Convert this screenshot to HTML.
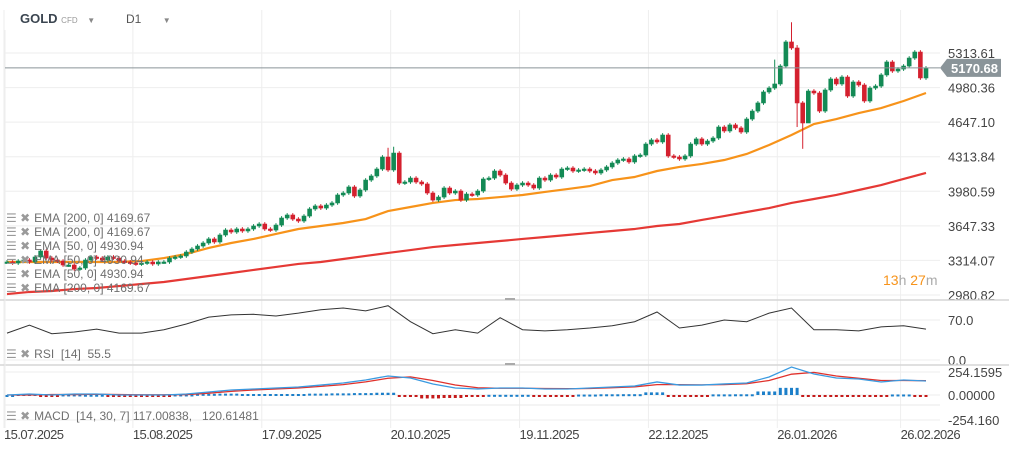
<!DOCTYPE html>
<html><head><meta charset="utf-8"><style>
html,body{margin:0;padding:0;background:#fff;}
#wrap{position:relative;width:1009px;height:449px;overflow:hidden;font-family:"Liberation Sans",sans-serif;}
svg{position:absolute;left:0;top:0;}
.leg{position:absolute;left:6px;font-size:12px;color:#6f6f6f;white-space:nowrap;}
.leg b{font-weight:normal;color:#9a9a9a;margin-right:4px;font-size:12px;}
</style></head><body>
<div id="wrap">
<svg id="chart" width="1009" height="449"></svg>
<div class="leg" style="top:211px"><b>☰ ✖</b>EMA&nbsp;[200,&nbsp;0]&nbsp;4169.67</div>
<div class="leg" style="top:225px"><b>☰ ✖</b>EMA&nbsp;[200,&nbsp;0]&nbsp;4169.67</div>
<div class="leg" style="top:239px"><b>☰ ✖</b>EMA&nbsp;[50,&nbsp;0]&nbsp;4930.94</div>
<div class="leg" style="top:253px"><b>☰ ✖</b>EMA&nbsp;[50,&nbsp;0]&nbsp;4930.94</div>
<div class="leg" style="top:267px"><b>☰ ✖</b>EMA&nbsp;[50,&nbsp;0]&nbsp;4930.94</div>
<div class="leg" style="top:281px"><b>☰ ✖</b>EMA&nbsp;[200,&nbsp;0]&nbsp;4169.67</div>
<div class="leg" style="top:347px"><b>☰ ✖</b>RSI&nbsp;&nbsp;[14]&nbsp;&nbsp;55.5</div>
<div class="leg" style="top:409px"><b>☰ ✖</b>MACD&nbsp;&nbsp;[14,&nbsp;30,&nbsp;7]&nbsp;117.00838,&nbsp;&nbsp;&nbsp;120.61481</div>
<div style="position:absolute;left:20px;top:11px;font-size:13px;font-weight:bold;color:#3b4550">GOLD <span style="font-size:8px;color:#999;font-weight:normal">CFD</span> <span style="font-size:8px;color:#888;margin-left:6px">▼</span></div>
<div style="position:absolute;left:126px;top:12px;font-size:12px;color:#555">D1 <span style="font-size:8px;color:#888;margin-left:18px">▼</span></div>
<div style="position:absolute;left:883px;top:272px;font-size:14px;color:#f7931a">13<span style="color:#aaa">h</span> 27<span style="color:#aaa">m</span></div>
</div>
<script>
const closes = [3299,3289,3308,3318,3299,3347,3405,3337,3318,3308,3270,3270,3231,3241,3318,3347,3337,3318,3347,3337,3308,3299,3289,3280,3289,
3299,3280,3299,3299,3337,3347,3357,3395,3424,3453,3482,3521,3492,3559,3607,3588,3617,3598,3617,3646,3665,3617,3607,3655,3723,3752,3713,3694,3742,3810,3839,3819,3848,3868,
3945,3964,4022,3935,3993,4089,4128,4195,4311,4186,4349,4060,
4070,4108,4070,4051,3964,3896,3925,4012,3964,3983,3896,3954,3945,3983,4099,4108,4176,4137,4060,4002,4041,4060,4041,4012,4108,4089,4137,4118,4195,4205,4176,4186,4195,4176,4157,4186,4215,4253,4282,4292,4263,4321,4330,
4436,4475,4456,4523,4321,4311,4292,4321,4436,4485,4436,4465,4494,4600,4562,4620,4591,4552,4677,4754,4832,4938,4976,5015,5188,5420,5362,4832,4639,4947,4928,4754,4957,5063,5015,5082,4899,5034,5005,4851,4976,4995,5102,5227,5140,5159,5188,5265,5323,5073,5169];
const highOverrides = {140:5610, 137:5250, 141:5390, 68:4400, 69:4410};
const lowOverrides = {142:4390, 141:4600, 143:4660};
const ema50 = [3299,3299,3299,3299,3299,3299,3308,3337,3376,3434,3482,3521,3569,3617,3646,3675,3713,3790,3829,3868,3896,3906,3925,3945,3974,4002,4031,4089,4118,4176,4215,4244,4282,4340,4427,4523,4629,4677,4735,4783,4851,4928];
const ema200 = [2990,3010,3019,3038,3048,3067,3087,3106,3135,3164,3193,3222,3251,3280,3299,3328,3357,3386,3414,3443,3463,3482,3501,3521,3540,3559,3579,3598,3617,3646,3665,3704,3742,3781,3819,3868,3906,3945,3993,4041,4099,4157];
const rsi = [47,61,46,49,54,47,47,53,63,75,79,80,77,82,88,91,86,95,67,46,53,47,74,53,51,53,56,60,67,84,56,61,70,67,82,91,53,53,51,58,60,54];
const macd = [0,11,0,11,11,0,0,0,11,33,55,66,77,88,110,133,166,210,188,122,77,66,77,77,66,66,77,88,99,144,110,110,122,133,199,309,232,188,177,144,166,155];
const signal = [0,0,5,5,8,5,3,2,5,20,40,55,66,77,95,115,145,185,200,160,110,80,75,75,72,70,72,80,90,115,115,112,115,125,160,230,250,210,185,160,160,158];
const priceTicks = ["5313.61","4980.36","4647.10","4313.84","3980.59","3647.33","3314.07","2980.82"];
const dateTicks = ["15.07.2025","15.08.2025","17.09.2025","20.10.2025","19.11.2025","22.12.2025","26.01.2026","26.02.2026"];
const dateTickIdx = [0,23,46,69,92,115,138,160];
const lastPrice = 5170.68;

const NS="http://www.w3.org/2000/svg";
const svg=document.getElementById('chart');
function mk(tag,attrs,name,parent){const e=document.createElementNS(NS,tag);for(const k in attrs)e.setAttribute(k,attrs[k]);


(parent||svg).appendChild(e);return e;}
const X0=7,X1=926,PR=940;
const N=closes.length;
const step=(X1-X0)/(N-1);
const xc=i=>X0+i*step;
const xk=k=>X0+k*4*step;
const py=p=>53+(5313.61-p)/9.64;
const ry=v=>360-v*40/70;
const my=v=>395-v/11.05;

priceTicks.forEach(t=>{const y=py(parseFloat(t));
 mk('line',{x1:5,x2:PR,y1:y,y2:y,stroke:'#eeeeee','stroke-width':1},'price-gridline');
 const tx=mk('text',{x:948,y:y+5,'font-size':13,fill:'#444','font-family':'Liberation Sans, sans-serif'},'price-tick-label');tx.textContent=t;});
dateTicks.forEach((t,j)=>{const x=xc(dateTickIdx[j])-3;
 mk('line',{x1:x,x2:x,y1:10,y2:428,stroke:'#eeeeee','stroke-width':1},'date-gridline');
 const tx=mk('text',{x:x,y:439,'font-size':13,fill:'#444','font-family':'Liberation Sans, sans-serif',textLength:60},'date-tick-label');tx.textContent=t;});
[[320,'70.0'],[360,'0.0']].forEach(([y,t])=>{mk('line',{x1:5,x2:PR,y1:y,y2:y,stroke:'#eeeeee'},'rsi-gridline');
 const tx=mk('text',{x:948,y:y+5,'font-size':13,fill:'#444','font-family':'Liberation Sans, sans-serif'},'rsi-tick-label');tx.textContent=t;});
[[372,'254.1595'],[395,'0.00000'],[420,'-254.160']].forEach(([y,t])=>{mk('line',{x1:5,x2:PR,y1:y,y2:y,stroke:'#eeeeee'},'macd-gridline');
 const tx=mk('text',{x:948,y:y+5,'font-size':13,fill:'#444','font-family':'Liberation Sans, sans-serif'},'macd-tick-label');tx.textContent=t;});
mk('line',{x1:0,x2:1009,y1:300,y2:300,stroke:'#d6d6d6','stroke-width':1.5},'panel-separator-rsi');
mk('line',{x1:0,x2:1009,y1:365,y2:365,stroke:'#d6d6d6','stroke-width':1.5},'panel-separator-macd');
mk('line',{x1:5,x2:PR,y1:405,y2:405,stroke:'#e8e8e8'},'macd-bottom-line');
mk('line',{x1:5,x2:5,y1:30,y2:428,stroke:'#eeeeee'},'left-border');
mk('line',{x1:505,x2:515,y1:299,y2:299,stroke:'#aaa','stroke-width':2},'rsi-resize-handle');
mk('line',{x1:505,x2:515,y1:364,y2:364,stroke:'#aaa','stroke-width':2},'macd-resize-handle');

mk('polyline',{points:ema200.map((v,k)=>xk(k)+','+py(v)).join(' '),fill:'none',stroke:'#e53935','stroke-width':2.2},'ema200-line');
mk('polyline',{points:ema50.map((v,k)=>xk(k)+','+py(v)).join(' '),fill:'none',stroke:'#f7931a','stroke-width':2.2},'ema50-line');

closes.forEach((c,i)=>{const o=i?closes[i-1]:c;const up=c>=o;const col=up?'#138a55':'#d4202e';
 const hi=highOverrides[i]||Math.max(o,c)+18, lo=lowOverrides[i]||Math.min(o,c)-18;
 const x=xc(i);
 mk('line',{x1:x,x2:x,y1:py(hi),y2:py(lo),stroke:col,'stroke-width':1},'candle-wick');
 const yt=py(Math.max(o,c)),yb=py(Math.min(o,c));
 mk('rect',{x:x-2,y:yt,width:4,height:Math.max(1.5,yb-yt),fill:col,stroke:col,'stroke-width':0.6},'candle-body');});

const ly=py(lastPrice);
mk('line',{x1:5,x2:PR,y1:ly,y2:ly,stroke:'#8a9499','stroke-width':1},'last-price-line');
mk('polygon',{points:`940,${ly} 947,${ly-9} 1001,${ly-9} 1001,${ly+9} 947,${ly+9}`,fill:'#8a9499'},'last-price-tag');
const lt=mk('text',{x:951,y:ly+5,'font-size':13,'font-weight':'bold',fill:'#fff','font-family':'Liberation Sans, sans-serif'},'last-price-label');lt.textContent=lastPrice.toFixed(2);

mk('polyline',{points:rsi.map((v,k)=>xk(k)+','+ry(v)).join(' '),fill:'none',stroke:'#333','stroke-width':1},'rsi-line');

// MACD histogram: one bar per candle, each 4-candle block shares its sampled value
macd.forEach((v,k)=>{const h=v-signal[k];const y0=my(0),y1=my(h);
 for(let j=-2;j<2;j++){const i=k*4+j; if(i<0||i>=N) continue; const x=xc(i);
  mk('rect',{x:x-1.5,y:Math.min(y0,y1),width:3,height:Math.max(2,Math.abs(y1-y0)),fill:h>=0?'#1c7fc9':'#c41a1a'},'macd-histogram-bar');}});
mk('polyline',{points:signal.map((v,k)=>xk(k)+','+my(v)).join(' '),fill:'none',stroke:'#e0312b','stroke-width':1.3},'macd-signal-line');
mk('polyline',{points:macd.map((v,k)=>xk(k)+','+my(v)).join(' '),fill:'none',stroke:'#3a9ae0','stroke-width':1.3},'macd-line');
</script>
</body></html>
